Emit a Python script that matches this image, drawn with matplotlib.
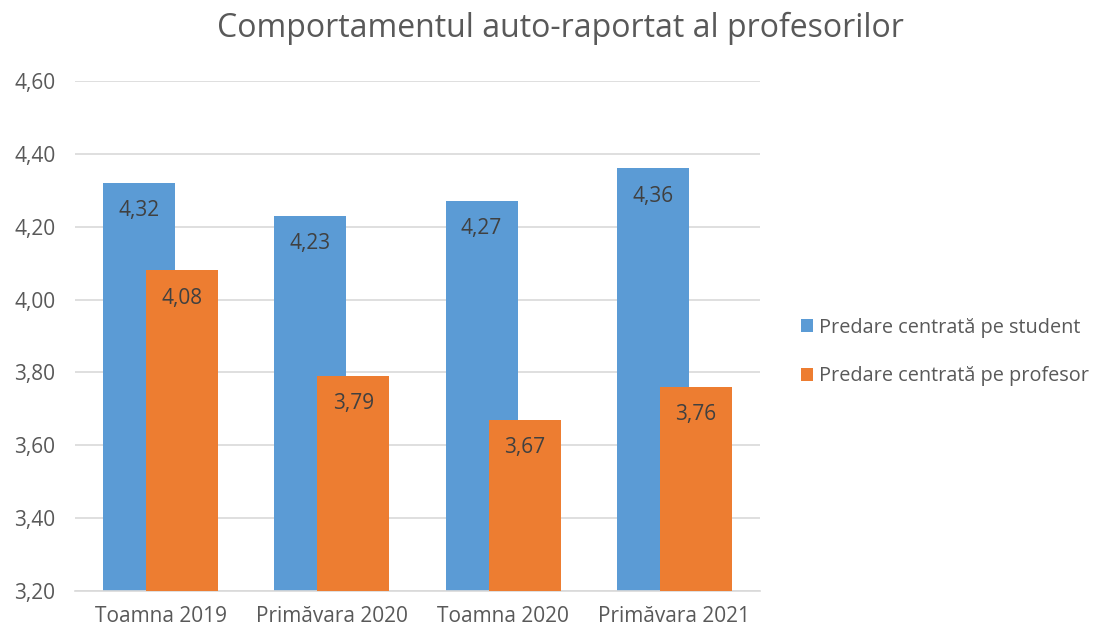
import matplotlib
matplotlib.use("Agg")
import matplotlib.pyplot as plt
import numpy as np

categories = ["Toamna 2019", "Primăvara 2020", "Toamna 2020", "Primăvara 2021"]
series_names = ["Predare centrată pe student", "Predare centrată pe profesor"]
student = [4.32, 4.23, 4.27, 4.36]
profesor = [4.08, 3.79, 3.67, 3.76]
yticks = [3.20, 3.40, 3.60, 3.80, 4.00, 4.20, 4.40, 4.60]

plt.rcParams['font.family'] = ['Open Sans', 'DejaVu Sans']

blue = "#5B9BD5"
orange = "#ED7D31"
grey = "#595959"

fig = plt.figure(figsize=(11.04, 6.30), dpi=100)
ax = fig.add_axes([75/1104, 1-591/630, (760-75)/1104, (591-81)/630])

x = np.arange(len(categories))
w = 0.42
off = 0.126
b1 = ax.bar(x - off, student, width=w, color=blue, label=series_names[0], zorder=2)
b2 = ax.bar(x + off, profesor, width=w, color=orange, label=series_names[1], zorder=3)

for bars, vals in ((b1, student), (b2, profesor)):
    for r, v in zip(bars, vals):
        ax.text(r.get_x() + r.get_width()/2, v - 0.076, f"{v:.2f}".replace(".", ","),
                ha="center", va="center", fontsize=15, color="#404040", zorder=4)

ax.set_ylim(3.2, 4.6)
ax.set_xlim(-0.5, 3.5)
ax.set_yticks(yticks)
ax.set_yticklabels([f"{t:.2f}".replace(".", ",") for t in yticks], fontsize=15, color=grey)
ax.set_xticks(x)
ax.set_xticklabels(categories, fontsize=15, color=grey)
ax.tick_params(axis="both", length=0)
ax.tick_params(axis="y", pad=14)
ax.tick_params(axis="x", pad=11)
ax.grid(axis="y", color="#D9D9D9", linewidth=1.2, zorder=0)
ax.set_axisbelow(True)
for s in ["top", "right", "left"]:
    ax.spines[s].set_visible(False)
ax.spines["bottom"].set_color("#D9D9D9")
ax.spines["bottom"].set_linewidth(1.2)

leg = fig.legend(handles=[b1, b2], loc="center left", bbox_to_anchor=(793/1104, 1-352/630),
                 frameon=False, fontsize=14.3, handlelength=0.6, handleheight=0.6,
                 handletextpad=0.3, labelspacing=1.45, borderaxespad=0)
for t in leg.get_texts():
    t.set_color(grey)

fig.text(560/1104, 1-28/630, "Comportamentul auto-raportat al profesorilor",
         ha="center", va="center", fontsize=23, color=grey)

fig.savefig("out.png", dpi=100, facecolor="white")
